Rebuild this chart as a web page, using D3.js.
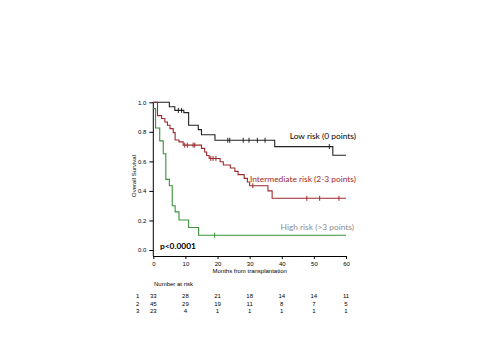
<!DOCTYPE html>
<meta charset="utf-8">
<head>
<style>
body { margin: 0; background: #fff; }
.axis path, .axis line { stroke: #000; stroke-width: 1px; }
.axis text { font-family: "Liberation Sans", Arial, sans-serif; font-size: 6px; fill: #000; }
.curve { fill: none; stroke-width: 1.1px; }
.risk { font-family: "Liberation Sans", Arial, sans-serif; font-size: 6px; fill: #000; }
.lab { font-family: Lato, "Open Sans", sans-serif; font-size: 8.4px; }
</style>
</head>
<body>
<svg width="500" height="353"></svg>
<script src="https://cdn.jsdelivr.net/npm/d3@7"></script>
<script>
// Kaplan-Meier steps: [month, survival]
var lowRisk = [[0, 1], [5.0, 0.97], [6.7, 0.945], [9.5, 0.93], [11.0, 0.845], [14.0, 0.815],
  [15.0, 0.78], [19.2, 0.743], [37.8, 0.70], [55.9, 0.642], [60, 0.642]];
var lowCens = [7.8, 8.8, 23.2, 23.8, 28, 29.8, 32.4, 34.8, 54.8];

var midRisk = [[0, 1], [1.3, 0.91], [2.6, 0.89], [3.6, 0.867], [4.4, 0.845], [5.2, 0.822],
  [6.2, 0.795], [6.8, 0.745], [8.0, 0.732], [9.3, 0.71], [15.0, 0.688], [16.0, 0.664],
  [16.6, 0.64], [17.4, 0.62], [20.8, 0.597], [21.8, 0.576], [24.0, 0.555], [25.4, 0.532],
  [26.4, 0.51], [28.3, 0.485], [29.3, 0.46], [30.0, 0.435], [35.7, 0.40], [37.0, 0.35], [60, 0.35]];
var midCens = [9.8, 10.6, 12.4, 12.9, 17.9, 18.6, 19.5, 31, 47.8, 51.8, 57.8];

var highRisk = [[0, 0.957], [0.7, 0.826], [2.0, 0.739], [3.1, 0.652], [3.9, 0.478], [5.0, 0.435],
  [5.9, 0.30], [6.8, 0.258], [8.0, 0.203], [11.0, 0.152], [14.1, 0.10], [60, 0.10]];
var highCens = [19.1];

var xTicks = [0, 10, 20, 30, 40, 50, 60];
var yTicks = [0, 0.2, 0.4, 0.6, 0.8, 1.0];
var riskRows = ["1", "2", "3"];
var atRisk = [[33, 28, 21, 18, 14, 14, 11], [45, 29, 19, 11, 8, 7, 5], [23, 4, 1, 1, 1, 1, 1]];

var svg = d3.select("svg");
var x = d3.scaleLinear().domain([0, 60]).range([153.3, 346]);
var y = d3.scaleLinear().domain([0, 1]).range([250, 102.3]);

// axes
var xAxis = svg.append("g")
    .attr("class", "axis")
    .attr("transform", "translate(0,256)")
    .call(d3.axisBottom(x).tickValues(xTicks).tickSize(3).tickSizeOuter(0).tickPadding(3)
      .tickFormat(d3.format("d")));
xAxis.select("path").attr("d", "M153.3,0.5H346");
var yAxis = svg.append("g")
    .attr("class", "axis")
    .attr("transform", "translate(153.3,0)")
    .call(d3.axisLeft(y).tickValues(yTicks).tickSize(4).tickSizeOuter(0).tickPadding(3)
      .tickFormat(d3.format(".1f")));
yAxis.select("path").attr("d", "M0,102.3V256");

svg.append("text").attr("class", "risk")
    .attr("transform", "translate(134,176) rotate(-90)")
    .attr("text-anchor", "middle").attr("dy", "0.35em")
    .text("Overall Survival");
svg.append("text").attr("class", "risk")
    .attr("x", (x(0) + x(60)) / 2).attr("y", 273).attr("text-anchor", "middle")
    .text("Months from transplantation");

var line = d3.line()
    .x(function(d) { return x(d[0]); })
    .y(function(d) { return y(d[1]); })
    .curve(d3.curveStepAfter);

function survAt(data, t) {
  var s = data[0][1];
  data.forEach(function(d) { if (d[0] <= t) s = d[1]; });
  return s;
}

function drawCurve(data, cens, color) {
  svg.append("path").datum(data).attr("class", "curve")
      .attr("stroke", color).attr("d", line);
  svg.selectAll(null).data(cens).enter().append("line")
      .attr("x1", function(d) { return x(d); }).attr("x2", function(d) { return x(d); })
      .attr("y1", function(d) { return y(survAt(data, d)) - 2.5; })
      .attr("y2", function(d) { return y(survAt(data, d)) + 2.5; })
      .attr("stroke", color).attr("stroke-width", 1);
}
drawCurve(lowRisk, lowCens, "#222");
drawCurve(midRisk, midCens, "#9c2a2e");
drawCurve(highRisk, highCens, "#3a913a");

svg.append("text").attr("class", "lab").attr("x", 356).attr("y", 139)
    .attr("text-anchor", "end").attr("fill", "#000").text("Low risk (0 points)");
svg.append("text").attr("class", "lab").attr("x", 356).attr("y", 182)
    .attr("text-anchor", "end").attr("fill", "#a0262b").text("Intermediate risk (2-3 points)");
svg.append("text").attr("class", "lab").attr("x", 354).attr("y", 230)
    .attr("text-anchor", "end").attr("fill", "#8c8c8c").text("High risk (>3 points)");
svg.append("text").attr("class", "lab").attr("x", 160).attr("y", 249)
    .attr("font-weight", "bold").attr("font-size", "9px").attr("fill", "#000").text("p<0.0001");

// number at risk table
svg.append("text").attr("class", "risk").attr("x", 154).attr("y", 286).text("Number at risk");
riskRows.forEach(function(r, i) {
  var yy = 298 + i * 7.6;
  svg.append("text").attr("class", "risk").attr("x", 136).attr("y", yy).text(r);
  svg.selectAll(null).data(atRisk[i]).enter().append("text")
      .attr("class", "risk")
      .attr("x", function(d, j) { return x(xTicks[j]); })
      .attr("y", yy).attr("text-anchor", "middle")
      .text(function(d) { return d; });
});
</script>
</body>
</html>
